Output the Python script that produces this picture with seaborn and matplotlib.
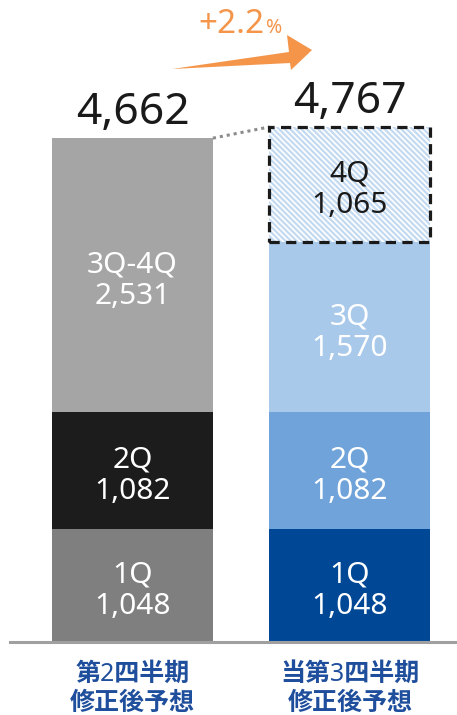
import matplotlib
matplotlib.use("Agg")
import matplotlib.pyplot as plt
import seaborn as sns
import pandas as pd
from matplotlib.patches import Polygon, Rectangle

# ---- data ----
categories = ["第2四半期\n修正後予想", "当第3四半期\n修正後予想"]
q2_labels = ["1Q", "2Q", "3Q-4Q"]
q2_values = [1048, 1082, 2531]
q3_labels = ["1Q", "2Q", "3Q", "4Q"]
q3_values = [1048, 1082, 1570, 1065]
totals = [4662, 4767]
growth_label = "+2.2"
growth_unit = "%"

sns.set_theme(style="white")
plt.rcParams['font.family'] = ['Noto Sans', 'Noto Sans CJK JP', 'DejaVu Sans']
plt.rcParams['hatch.linewidth'] = 1.6

W, H = 457, 715
fig = plt.figure(figsize=(W / 100, H / 100), dpi=100)
ax = fig.add_axes([10 / W, 73 / H, 447 / W, 642 / H])

q2_colors = ["#7f7f7f", "#1c1c1c", "#a5a5a5"]
q3_colors = ["#004896", "#6fa3da", "#a9c9eb", "white"]
q2_text = ["white", "white", "white"]
q3_text = ["white", "white", "white", "#1a1a1a"]


def stack(cat, labels, values, colors, tcolors, hatch_last=False):
    bottom = 0
    patches = []
    for i, (lab, val, col, tc) in enumerate(zip(labels, values, colors, tcolors)):
        df = pd.DataFrame({"cat": [cat], "val": [val]})
        last = hatch_last and i == len(values) - 1
        kws = dict(data=df, x="cat", y="val", order=categories, color=col,
                   width=0.74, bottom=bottom, linewidth=0, saturation=1, ax=ax)
        if last:
            kws.update(hatch="\\\\\\\\\\\\", edgecolor="#c3daf1")
        sns.barplot(**kws)
        p = ax.patches[-1]
        patches.append(p)
        cx = p.get_x() + p.get_width() / 2
        cy = p.get_y() + p.get_height() / 2
        ax.annotate(f"{lab}\n{val:,}", xy=(cx, cy), xytext=(0, -4),
                    textcoords="offset points", ha="center", va="center",
                    fontsize=21.5, color=tc, linespacing=1.12)
        bottom += val
    return patches, bottom


p2, top2 = stack(categories[0], q2_labels, q2_values, q2_colors, q2_text)
p3, top3 = stack(categories[1], q3_labels, q3_values, q3_colors, q3_text, hatch_last=True)

# dashed border around the forecast segment
b = p3[-1]
ax.add_patch(Rectangle(b.get_xy(), b.get_width(), b.get_height(), fill=False,
                       edgecolor="#1a1a1a", linewidth=2.3, linestyle=(0, (3.2, 2.0)),
                       zorder=5))

# dotted connector
a = p2[-1]
ax.plot([a.get_x() + a.get_width(), b.get_x()], [top2, top3], linestyle=(0, (1, 1.3)),
        color="#8c8c8c", linewidth=2.2, zorder=4)

# totals
for p, t, tp in zip([p2[-1], p3[-1]], totals, [top2, top3]):
    ax.annotate(f"{t:,}", xy=(p.get_x() + p.get_width() / 2, tp), xytext=(0, 10),
                textcoords="offset points", ha="center", va="baseline",
                fontsize=32, color="#1a1a1a")

ax.set_xlim(-0.563, 1.492)
ax.set_ylim(0, 5939)
ax.set_xticks([0, 1])
ax.set_xticklabels(categories, fontsize=18, fontweight="bold", color="#1f4e9c",
                   linespacing=1.25)
ax.tick_params(axis="x", length=0, pad=14)
ax.set_yticks([])
ax.set_xlabel("")
ax.set_ylabel("")
for s in ["top", "right", "left"]:
    ax.spines[s].set_visible(False)
ax.spines["bottom"].set_color("#a0a0a0")
ax.spines["bottom"].set_linewidth(2.2)

# growth arrow (decoration)
pts_px = [(172, 69), (289, 52), (287, 35), (312, 50), (291, 70), (290, 63)]
fig.patches.append(Polygon([(x / W, 1 - y / H) for x, y in pts_px], closed=True,
                           transform=fig.transFigure, facecolor="#f4954a",
                           edgecolor="none"))
fig.text(265 / W, 1 - 33 / H, growth_label, ha="right", va="baseline",
         fontsize=24, color="#f4954a")
fig.text(266 / W, 1 - 33 / H, growth_unit, ha="left", va="baseline",
         fontsize=14, color="#f4954a")

fig.savefig("out.png", dpi=100)
